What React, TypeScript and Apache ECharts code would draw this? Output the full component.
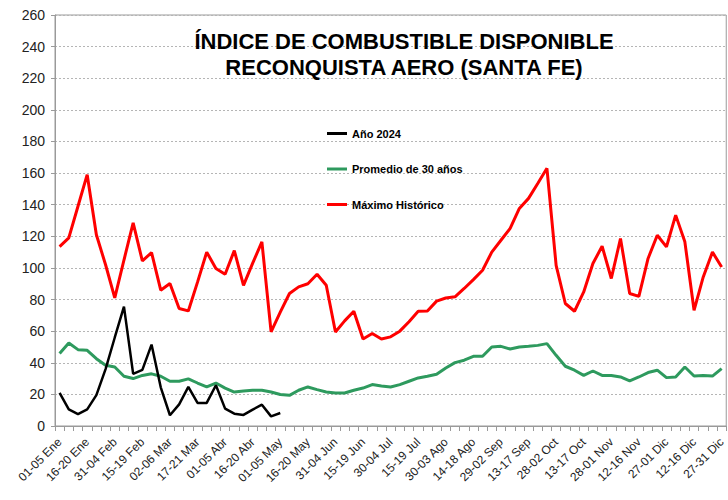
import React, { useEffect, useRef } from "react";
import * as echarts from "echarts";

const categories: string[] = [
  "01-05 Ene", "06-10 Ene", "11-15 Ene", "16-20 Ene", "21-25 Ene", "26-30 Ene",
  "31-04 Feb", "05-09 Feb", "10-14 Feb", "15-19 Feb", "20-24 Feb", "25-01 Mar",
  "02-06 Mar", "07-11 Mar", "12-16 Mar", "17-21 Mar", "22-26 Mar", "27-31 Mar",
  "01-05 Abr", "06-10 Abr", "11-15 Abr", "16-20 Abr", "21-25 Abr", "26-30 Abr",
  "01-05 May", "06-10 May", "11-15 May", "16-20 May", "21-25 May", "26-30 May",
  "31-04 Jun", "05-09 Jun", "10-14 Jun", "15-19 Jun", "20-24 Jun", "25-29 Jun",
  "30-04 Jul", "05-09 Jul", "10-14 Jul", "15-19 Jul", "20-24 Jul", "25-29 Jul",
  "30-03 Ago", "04-08 Ago", "09-13 Ago", "14-18 Ago", "19-23 Ago", "24-28 Ago",
  "29-02 Sep", "03-07 Sep", "08-12 Sep", "13-17 Sep", "18-22 Sep", "23-27 Sep",
  "28-02 Oct", "03-07 Oct", "08-12 Oct", "13-17 Oct", "18-22 Oct", "23-27 Oct",
  "28-01 Nov", "02-06 Nov", "07-11 Nov", "12-16 Nov", "17-21 Nov", "22-26 Nov",
  "27-01 Dic", "02-06 Dic", "07-11 Dic", "12-16 Dic", "17-21 Dic", "22-26 Dic",
  "27-31 Dic",
];

const anio2024: number[] = [
  21, 10.5, 7.5, 10.5, 19.5, 36, 56, 75.5, 33, 35.5, 51.5, 24.5,
  6.8, 13.7, 24.7, 14.6, 14.6, 25.8, 11, 7.8, 7, 10.4, 13.5, 6.1, 8.2,
];

const promedio30: number[] = [
  45.8, 52.5, 48.3, 47.9, 42.6, 38.4, 37.3, 31.5, 30, 32, 33, 31.5,
  28.3, 28.3, 29.8, 27.2, 24.7, 27.2, 24, 21.5, 22.2, 22.6, 22.6, 21.5,
  19.9, 19.4, 22.6, 24.7, 23, 21.5, 20.9, 20.9, 22.6, 24, 26.2, 25.3,
  24.7, 26.2, 28.3, 30.4, 31.5, 32.7, 36.7, 40.1, 41.6, 44.1, 44.1, 50,
  50.4, 48.7, 50, 50.4, 51, 52.1, 44.7, 37.8, 35.3, 32, 34.8, 32,
  32, 31, 28.5, 31, 33.8, 35.3, 30.6, 31, 37.3, 31.6, 32, 31.6,
  36.3,
];

const maximoHistorico: number[] = [
  113.5, 119, 139, 159, 121, 102, 81, 105, 128.5, 104.4, 109.7, 85.9,
  90.1, 74.3, 72.8, 91, 110, 99.6, 96, 111, 89, 103, 116.5, 59.5,
  72, 83.8, 88, 90, 96, 89, 59.5, 66.5, 72.6, 55, 58.5, 55,
  56.4, 60, 66, 72.6, 72.8, 79, 81, 81.7, 87, 92.6, 98.5, 110,
  117.5, 125, 137.6, 144, 153.4, 163, 101.6, 77.5, 72.6, 84.8, 102.8, 113.7,
  93.3, 118.6, 83.8, 82, 106, 120.7, 113.3, 133.4, 116.5, 73.2, 94.3, 110,
  100.6,
];

const yTicks = { min: 0, max: 260, interval: 20 };

const titleLines = [
  "ÍNDICE DE COMBUSTIBLE DISPONIBLE",
  "RECONQUISTA AERO (SANTA FE)",
];

const seriesNames = ["Año 2024", "Promedio de 30 años", "Máximo Histórico"];

export default function App() {
  const ref = useRef<HTMLDivElement>(null);

  useEffect(() => {
    if (!ref.current) return;
    const chart = echarts.init(ref.current, undefined, { renderer: "svg" });
    const font = "Liberation Sans, Arial, sans-serif";
    chart.setOption({
      animation: false,
      backgroundColor: "#ffffff",
      textStyle: { fontFamily: font },
      title: {
        text: titleLines.join("\n"),
        left: 399,
        top: 23,
        textAlign: "center",
        textStyle: {
          fontFamily: font,
          fontSize: 22,
          fontWeight: "bold",
          color: "#000000",
          lineHeight: 26,
        },
      },
      legend: {
        orient: "vertical",
        left: 322,
        top: 123,
        itemWidth: 20,
        itemHeight: 3,
        itemGap: 24.5,
        icon: "rect",
        data: seriesNames,
        textStyle: {
          fontFamily: font,
          fontSize: 11,
          fontWeight: "bold",
          color: "#000000",
        },
      },
      grid: {
        left: 55,
        right: 1,
        top: 15,
        bottom: 74,
        show: true,
        borderColor: "#9a9a9a",
        borderWidth: 1,
      },
      xAxis: {
        type: "category",
        data: categories,
        boundaryGap: true,
        axisLine: { show: true, lineStyle: { color: "#9a9a9a", width: 1 } },
        axisTick: {
          show: true,
          interval: 0,
          length: 5,
          lineStyle: { color: "#9a9a9a" },
        },
        axisLabel: {
          interval: 2,
          rotate: 45,
          fontSize: 12,
          color: "#222222",
          fontFamily: font,
          margin: 14,
        },
        splitLine: { show: false },
      },
      yAxis: {
        type: "value",
        min: yTicks.min,
        max: yTicks.max,
        interval: yTicks.interval,
        axisLine: { show: true, lineStyle: { color: "#9a9a9a", width: 1 } },
        axisTick: { show: true, length: 4, lineStyle: { color: "#9a9a9a" } },
        axisLabel: {
          fontSize: 14,
          color: "#222222",
          fontFamily: font,
          margin: 10,
        },
        splitLine: {
          show: true,
          lineStyle: { color: "#b5b5b5", type: [2, 2], width: 1 },
        },
      },
      series: [
        {
          name: seriesNames[0],
          type: "line",
          data: anio2024,
          symbol: "none",
          color: "#000000",
          lineStyle: { color: "#000000", width: 2.5 },
          z: 4,
        },
        {
          name: seriesNames[1],
          type: "line",
          data: promedio30,
          symbol: "none",
          color: "#2e9a5e",
          lineStyle: { color: "#2e9a5e", width: 3 },
          z: 3,
        },
        {
          name: seriesNames[2],
          type: "line",
          data: maximoHistorico,
          symbol: "none",
          color: "#ff0000",
          lineStyle: { color: "#ff0000", width: 3 },
          z: 2,
        },
      ],
    });
    return () => chart.dispose();
  }, []);

  return (
    <div
      ref={ref}
      style={{ position: "fixed", left: 0, top: 0, width: 728, height: 500 }}
    />
  );
}
